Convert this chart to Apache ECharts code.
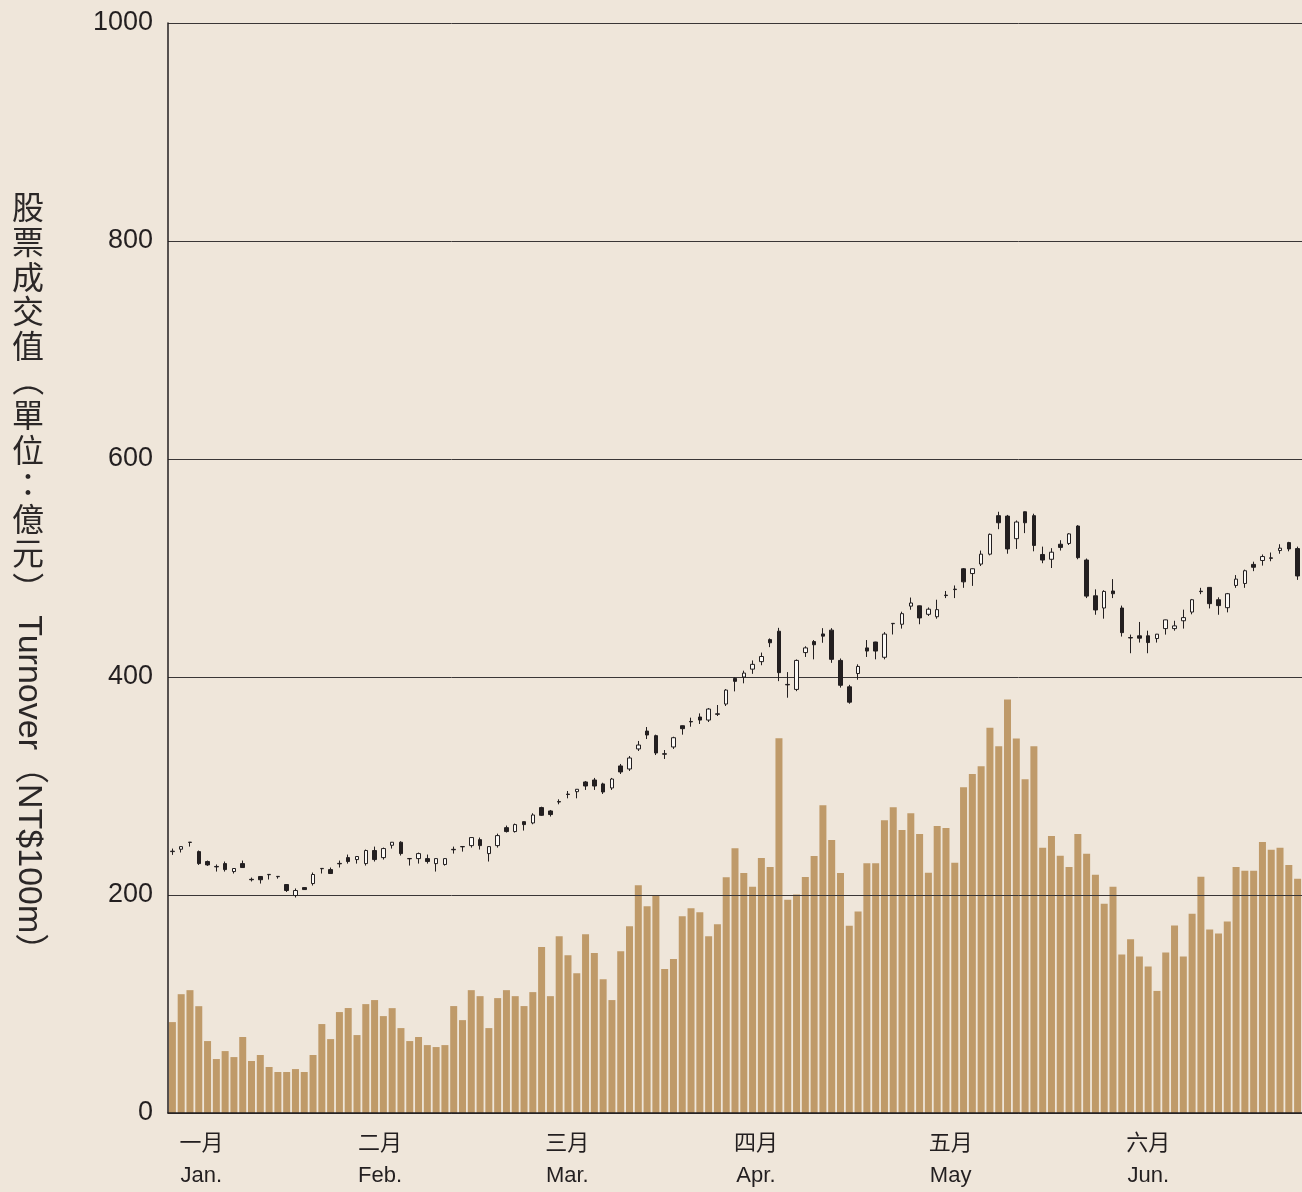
<!DOCTYPE html>
<html lang="zh-Hant">
<head>
    <meta charset="UTF-8"/>
    <title>股票成交值 Turnover</title>
    <style>
        html, body {
            margin: 0;
            padding: 0;
            width: 1302px;
            height: 1192px;
            background: #efe6da;
            overflow: hidden;
        }

        #chart {
            width: 1302px;
            height: 1192px;
        }
    </style>
</head>
<body>
<div id="chart"></div>
<script src="https://cdn.jsdelivr.net/npm/echarts@6/dist/echarts.min.js"></script>
<script>
    // daily turnover bars (NT$100m), one per trading day
    const turnover = [
        83.4, 109, 112.7, 98, 66, 49.5, 56.8, 51.3, 69.7, 47.7,
        53.2, 42.2, 37.6, 37.6, 40.3, 37.6, 53.2, 81.6, 67.8, 92.6,
        96.3, 71.5, 99.9, 103.6, 88.9, 96.2, 77.9, 66, 69.7, 62.3,
        60.5, 62.3, 98.1, 85.2, 112.7, 107.2, 77.9, 105.4, 112.7, 107.2,
        98.1, 110.9, 152.2, 107.2, 162.2, 144.8, 128.3, 164.1, 146.7, 122.8,
        103.6, 148.5, 171.4, 209, 189.7, 199.8, 132, 141.2, 180.6, 187.9,
        184.2, 162.2, 173.2, 216.3, 242.9, 220.2, 207.6, 233.9, 225.6, 343.7,
        195.7, 200.4, 216.6, 235.7, 282.3, 250.5, 220.2, 171.8, 184.8, 229.2,
        229.2, 268.6, 280.5, 259.6, 275.1, 256, 220.4, 263.3, 261.5, 229.5,
        298.9, 310.9, 318.2, 353.5, 336.4, 379.3, 343.6, 306.2, 336.4, 243.3,
        254.2, 236, 225.8, 256, 237.8, 218.5, 192, 207.6, 145.5, 159.3,
        143.6, 134.5, 112, 147.3, 172, 143.6, 182.9, 216.7, 168.4, 164.7,
        175.6, 225.8, 222.2, 222.2, 248.7, 241.5, 243.3, 227.6, 214.9
    ];

    // daily index candles: [open, close, low, high]
    const candles = [
        [239.8, 240.2, 236.8, 242.6], [242, 244.4, 239, 244.6], [248.2, 248.5, 244.4, 248.6],
        [239.8, 228.8, 227.6, 240.8], [230.7, 227.6, 226.7, 231.6], [226.2, 225.8, 221.5, 228],
        [228.8, 223.3, 221.5, 230.7], [221.5, 224.3, 219.7, 224.5], [228.8, 225.2, 225, 231.6],
        [214.4, 214, 212.4, 216], [217, 214, 210.5, 217.2], [218.6, 218.9, 214.2, 219],
        [216.8, 217.1, 215, 217.2], [209.6, 204.1, 202.8, 209.8], [199.5, 204.1, 197.7, 206],
        [206.8, 205, 204.8, 207], [210.5, 218.8, 208.7, 220.6], [224.1, 224.4, 219.7, 224.5],
        [223.3, 219.7, 219.5, 225.2], [229, 228.6, 225.2, 231.6], [234.3, 230.7, 228.8, 237.1],
        [232.5, 235.3, 228.8, 235.5], [228.8, 240.8, 227, 241.7], [240.8, 232.5, 230.7, 244.4],
        [234.3, 242.6, 232.5, 243.5], [245.6, 248.4, 242.6, 248.6], [248.4, 238, 236.2, 249.3],
        [233.2, 233.5, 227, 233.6], [233.4, 238, 228.8, 238.9], [233.4, 230.7, 228.8, 237.1],
        [228.8, 233.4, 221.5, 233.6], [228, 233.4, 227, 233.6], [241.9, 241.5, 238, 244.4],
        [244.2, 244.5, 239.8, 244.6], [245.3, 252.7, 243.5, 252.9], [250.8, 245.3, 241.7, 252.7],
        [238, 244.4, 230.7, 244.6], [245.3, 254.5, 243.5, 256.3], [261.8, 258.2, 257.3, 263.7],
        [258.2, 264.6, 257.3, 265.5], [267.3, 264.6, 259.1, 267.5], [266.1, 273.4, 264.9, 275],
        [280.2, 273.1, 272.5, 281], [277.1, 273.8, 272, 278], [285.7, 285.3, 283.2, 287.8],
        [292.6, 292.2, 288.7, 295.4], [294.8, 297, 288.7, 297.2], [303.7, 300, 296.4, 304.6],
        [305.5, 300, 296.4, 307.4], [301.9, 294.5, 292.7, 303], [298.2, 306.4, 296.4, 307.4],
        [318.4, 312.9, 311, 320.2], [315.6, 325.7, 313.8, 327.5], [334, 337.6, 332.1, 341.3],
        [350.4, 346.8, 343.1, 354.1], [346.2, 330.3, 328.4, 347.1], [329.6, 329.2, 324.8, 333],
        [335.8, 344.3, 334, 345.2], [355.3, 352.6, 347.1, 355.5], [359.2, 358.8, 354.4, 362.7],
        [363.3, 360.5, 356.9, 366.6], [360.5, 370.6, 358.7, 371.5], [366.2, 365.8, 364.2, 374.3],
        [375.2, 388, 373.4, 388.9], [398.7, 396, 386.8, 399.6], [400, 403.6, 394.2, 405.8],
        [407.2, 411.6, 402.9, 415.2], [414.1, 418.8, 410.8, 422.4], [434.3, 431.4, 427.4, 435.4],
        [442, 404, 396.2, 445.1], [393.2, 392.8, 381, 404.5], [388.6, 415.2, 387, 416.1],
        [422.4, 426.7, 418.4, 428.2], [432.5, 429.6, 416.2, 433.9], [439.5, 437.5, 431.4, 444.8],
        [443, 416.2, 413, 444.8], [415.2, 392.4, 390.3, 417], [391, 376.9, 375.5, 392.8],
        [403.2, 409.7, 397.5, 411.6], [426.7, 423.8, 418.4, 433.9], [432.1, 423.8, 416.2, 432.3],
        [418.1, 439.4, 416.2, 441.2], [448.9, 449.2, 439, 449.3], [448.4, 458.1, 444.4, 459.9],
        [465, 467.9, 461.7, 472.9], [465.3, 454.2, 448.4, 465.5], [457.5, 462.2, 456, 463.8],
        [455.3, 461.8, 453.5, 470.9], [475.1, 474.7, 472.4, 478.9], [480.6, 480.2, 472.4, 484],
        [499.3, 487.3, 481.8, 500], [494.9, 499.3, 483.6, 499.5], [503.6, 512.7, 501.8, 516],
        [512.7, 530.9, 511.6, 531.6], [548, 541.5, 535.6, 551.6], [547.6, 517.5, 513.1, 548.7],
        [526.9, 542.2, 517.5, 543.6], [551.6, 541.5, 532, 551.8], [548, 520.7, 515.3, 549.8],
        [512.4, 507.3, 504.4, 519.6], [508, 514.5, 500, 518.2], [521.8, 518.9, 516, 525.5],
        [522.5, 531.3, 521.1, 532], [538.5, 509.5, 508, 539.3], [507.3, 474.2, 472.4, 508.7],
        [474.5, 461.5, 457.1, 480.4], [463.3, 478.5, 453.5, 479.6], [478.9, 476.4, 472.4, 489.8],
        [463.3, 440.7, 437.1, 465.5], [436.2, 435.8, 421.8, 438.9], [437.8, 435.6, 431.6, 450.5],
        [437.8, 431.6, 421.8, 442.5], [435.3, 439.3, 431.6, 439.5], [444.4, 452.4, 438.9, 452.6],
        [444.4, 446.9, 442.5, 451.6], [451.6, 454.5, 444.4, 461.8], [459.6, 470.9, 457.5, 471.6],
        [478.7, 478.3, 476, 481.8], [482.2, 467.3, 462.9, 482.4], [470.9, 465.5, 457.1, 473.1],
        [463.6, 476.4, 459.3, 477.1], [484, 489.8, 481.8, 493.5], [485.8, 497.5, 481.8, 498.5],
        [503.3, 500.7, 497.1, 505.8], [506.9, 510.5, 502.2, 512.4], [509.3, 508.9, 506.2, 514.2],
        [516, 518.2, 513.1, 521.8], [523.3, 517.5, 515.3, 524], [517.8, 492.7, 489.1, 519.6]
    ];

    // month labels and where they sit along the day axis (in trading-day units)
    const monthCn = ['一月', '二月', '三月', '四月', '五月', '六月'];
    const monthEn = ['Jan.', 'Feb.', 'Mar.', 'Apr.', 'May', 'Jun.'];
    const monthTickPos = [3.8, 24.13, 45.42, 66.88, 89.03, 111.51];

    const yTicks = [0, 200, 400, 600, 800, 1000];

    // y axis title, written top to bottom: CJK upright, brackets and latin turned
    const titleCjk = ['股', '票', '成', '交', '值', '（', '單', '位', '：', '億', '元', '）'];
    const titleLatin = 'Turnover（NT$100m）';

    const days = turnover.map((v, i) => String(i + 1));

    const ink = '#231f20';
    const latinFont = "'Liberation Sans', Arial, 'Noto Sans CJK TC', sans-serif";
    const cjkFont = "'Noto Sans CJK TC', 'Liberation Sans', sans-serif";

    // vertical title: one text per cell, brackets rotated like vertical writing
    const titleX = 28, titleTop = 190, cell = 34.6;
    const rotated = '（）';
    const titleGraphics = titleCjk.map((ch, k) => ({
        type: 'text',
        x: titleX,
        y: titleTop + cell * k + cell / 2,
        rotation: rotated.includes(ch) ? -Math.PI / 2 : 0,
        style: {
            text: ch,
            fontSize: 32,
            fontFamily: cjkFont,
            fill: '#2b2727',
            align: 'center',
            textAlign: 'center',
            verticalAlign: 'middle',
            textVerticalAlign: 'middle'
        }
    }));
    titleGraphics.push({
        type: 'text',
        x: titleX,
        y: titleTop + cell * titleCjk.length + 10,
        rotation: -Math.PI / 2,
        style: {
            text: titleLatin,
            fontSize: 34,
            fontFamily: latinFont,
            fill: '#2b2727',
            align: 'left',
            textAlign: 'left',
            verticalAlign: 'middle',
            textVerticalAlign: 'middle'
        }
    });

    const chart = echarts.init(document.getElementById('chart'), null, {renderer: 'canvas'});

    const option = {
        backgroundColor: '#efe6da',
        animation: false,
        grid: {
            left: 168,
            right: -2,
            top: 23,
            bottom: 78,
            containLabel: false
        },
        xAxis: [
            {
                type: 'category',
                data: days,
                boundaryGap: true,
                z: 5,
                axisLine: {show: true, lineStyle: {color: ink, width: 1.5}},
                axisTick: {show: false},
                axisLabel: {show: false},
                splitLine: {show: false}
            },
            {
                // label-only axis for the month names
                type: 'value',
                min: 0,
                max: turnover.length,
                position: 'bottom',
                axisLine: {show: false},
                axisTick: {show: false},
                splitLine: {show: false},
                axisLabel: {
                    customValues: monthTickPos,
                    margin: 15,
                    fontSize: 22,
                    lineHeight: 32,
                    color: ink,
                    fontFamily: latinFont,
                    formatter: v => {
                        const k = monthTickPos.indexOf(v);
                        return k < 0 ? '' : monthCn[k] + '\n' + monthEn[k];
                    }
                }
            }
        ],
        yAxis: {
            type: 'value',
            min: yTicks[0],
            max: yTicks[yTicks.length - 1],
            interval: 200,
            offset: 2,
            z: 5,
            axisLine: {show: true, lineStyle: {color: ink, width: 1.5}},
            axisTick: {show: false},
            axisLabel: {
                margin: 13,
                fontSize: 27,
                color: ink,
                fontFamily: latinFont,
                formatter: v => String(v)
            },
            splitLine: {show: true, lineStyle: {color: '#3a3636', width: 1}}
        },
        series: [
            {
                name: 'Turnover',
                type: 'bar',
                xAxisIndex: 0,
                data: turnover,
                barWidth: 7,
                z: 2,
                itemStyle: {color: '#bf9a69'}
            },
            {
                name: 'Index',
                type: 'candlestick',
                xAxisIndex: 0,
                data: candles,
                barWidth: 4,
                z: 6,
                itemStyle: {
                    color: '#fbf9f5',
                    color0: ink,
                    borderColor: ink,
                    borderColor0: ink,
                    borderWidth: 1
                }
            }
        ],
        graphic: titleGraphics
    };

    chart.setOption(option);

    window.addEventListener('resize', () => {
        chart.resize();
    });
</script>
</body>
</html>
